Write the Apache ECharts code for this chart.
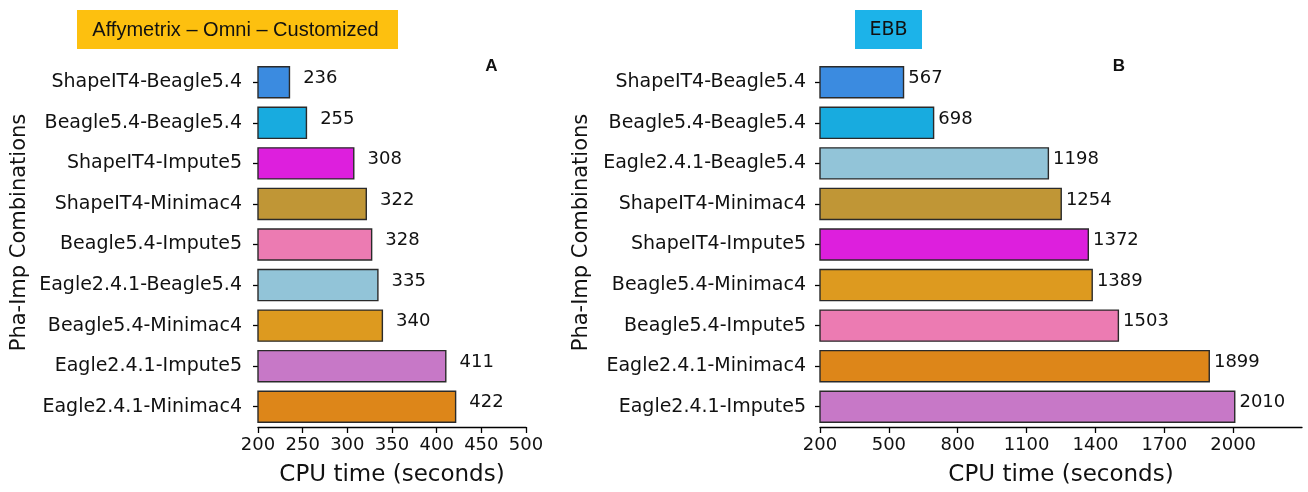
<!DOCTYPE html>
<html>
<head>
<meta charset="utf-8">
<script src="https://cdn.jsdelivr.net/npm/echarts@6/dist/echarts.min.js"></script>
<style>
html,body{margin:0;padding:0;background:#fff;}
#c{width:1308px;height:492px;}
</style>
</head>
<body>
<div id="c"></div>
<script>
// Panel A: Affymetrix – Omni – Customized
const catsA = ['ShapeIT4-Beagle5.4','Beagle5.4-Beagle5.4','ShapeIT4-Impute5','ShapeIT4-Minimac4','Beagle5.4-Impute5','Eagle2.4.1-Beagle5.4','Beagle5.4-Minimac4','Eagle2.4.1-Impute5','Eagle2.4.1-Minimac4'];
const valsA = [236,255,308,322,328,335,340,411,422];
const ticksA = [200,250,300,350,400,450,500];
// Panel B: EBB
const catsB = ['ShapeIT4-Beagle5.4','Beagle5.4-Beagle5.4','Eagle2.4.1-Beagle5.4','ShapeIT4-Minimac4','ShapeIT4-Impute5','Beagle5.4-Minimac4','Beagle5.4-Impute5','Eagle2.4.1-Minimac4','Eagle2.4.1-Impute5'];
const valsB = [567,698,1198,1254,1372,1389,1503,1899,2010];
const ticksB = [200,500,800,1100,1400,1700,2000];

const comboColors = {
  'ShapeIT4-Beagle5.4':'#3B8BE0',
  'Beagle5.4-Beagle5.4':'#18ABDF',
  'ShapeIT4-Impute5':'#DD1FDD',
  'ShapeIT4-Minimac4':'#C09636',
  'Beagle5.4-Impute5':'#EC7BB2',
  'Eagle2.4.1-Beagle5.4':'#92C4D8',
  'Beagle5.4-Minimac4':'#DD9A1F',
  'Eagle2.4.1-Impute5':'#C778C7',
  'Eagle2.4.1-Minimac4':'#DD8619'
};

const font = 'DejaVu Sans';

function barData(cats, vals){
  return vals.map((v,i)=>({value:v, itemStyle:{color:comboColors[cats[i]]}}));
}

function xAxis(gi, min, max, ticks){
  return {
    type:'value', gridIndex:gi, min:min, max:max,
    splitLine:{show:false},
    axisLine:{show:true, lineStyle:{color:'#000', width:1.3}},
    axisTick:{show:true, length:6, lineStyle:{color:'#000', width:1.3}, customValues:ticks},
    axisLabel:{color:'#111', fontFamily:font, fontSize:18, margin:9, customValues:ticks, formatter:v=>String(v)},
    name:'CPU time (seconds)', nameLocation:'middle', nameGap:37,
    nameTextStyle:{color:'#111', fontFamily:font, fontSize:23}
  };
}
function yAxis(gi, cats, margin){
  return {
    type:'category', gridIndex:gi, data:cats, inverse:true,
    axisLine:{show:false},
    axisTick:{show:true, alignWithLabel:true, length:5, lineStyle:{color:'#000', width:1.3}},
    axisLabel:{color:'#111', fontFamily:font, fontSize:19, margin:margin},
    name:'Pha-Imp Combinations', nameLocation:'middle', nameGap:228, nameRotate:90,
    nameTextStyle:{color:'#111', fontFamily:font, fontSize:21, padding:[0,0,0,24]}
  };
}

const chart = echarts.init(document.getElementById('c'), null, {renderer:'canvas'});
chart.setOption({
  animation:false,
  backgroundColor:'#fff',
  grid:[
    {left:258, top:62, width:268, height:366},
    {left:820, top:62, width:482, height:366}
  ],
  xAxis:[xAxis(0,200,500,ticksA), xAxis(1,200,2300,ticksB)],
  yAxis:[yAxis(0,catsA,16), yAxis(1,catsB,14)],
  series:[
    {type:'bar', xAxisIndex:0, yAxisIndex:0, data:barData(catsA,valsA), barCategoryGap:'20%',
      itemStyle:{borderColor:'#2a2a2a', borderWidth:1.4},
      label:{show:true, position:'right', distance:13, color:'#111', fontFamily:font, fontSize:18, offset:[0,-4]}},
    {type:'bar', xAxisIndex:1, yAxisIndex:1, data:barData(catsB,valsB), barCategoryGap:'20%',
      itemStyle:{borderColor:'#2a2a2a', borderWidth:1.4},
      label:{show:true, position:'right', distance:4, color:'#111', fontFamily:font, fontSize:18, offset:[0,-4]}}
  ],
  graphic:[
    {type:'rect', x:77, y:10, shape:{width:321, height:39}, style:{fill:'#FDC00F'}},
    {type:'text', x:235.5, y:30, style:{text:'Affymetrix – Omni – Customized', fill:'#111', font:'20px "Liberation Sans"', align:'center', verticalAlign:'middle'}},
    {type:'rect', x:855, y:10, shape:{width:67, height:39}, style:{fill:'#1CB3E9'}},
    {type:'text', x:888.5, y:30, style:{text:'EBB', fill:'#111', font:'19px "DejaVu Sans"', align:'center', verticalAlign:'middle'}},
    {type:'text', x:491.5, y:66, style:{text:'A', fill:'#111', font:'bold 17px "Liberation Sans"', align:'center', verticalAlign:'middle'}},
    {type:'text', x:1119, y:66, style:{text:'B', fill:'#111', font:'bold 17px "Liberation Sans"', align:'center', verticalAlign:'middle'}}
  ]
});
</script>
</body>
</html>
